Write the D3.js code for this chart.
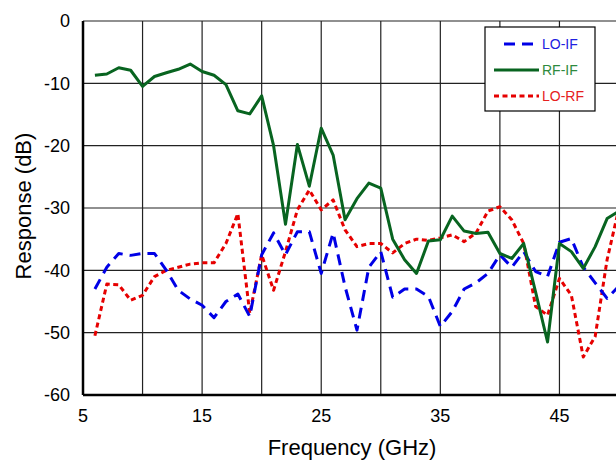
<!DOCTYPE html>
<meta charset="utf-8">
<style>
body { margin: 0; background: #fff; }
svg { font-family: "Liberation Sans", Arial, sans-serif; }
.grid line { stroke: #222; stroke-width: 1.2px; }
.line { fill: none; stroke-width: 3px; stroke-linejoin: round; }
</style>
<svg width="616" height="462"></svg>
<script src="https://cdn.jsdelivr.net/npm/d3@7"></script>
<script>
var freq = [6,7,8,9,10,11,12,13,14,15,16,17,18,19,20,21,22,23,24,25,26,27,28,29,30,
            31,32,33,34,35,36,37,38,39,40,41,42,43,44,45,46,47,48,49,50];
var loIf = [-43,-39.5,-37.3,-37.6,-37.3,-37.3,-40,-43.2,-44.6,-45.6,-47.6,-45,-43.8,-47.4,-37.5,
            -34,-37.5,-33.8,-33.8,-40.5,-34,-42.6,-49.6,-39.5,-37,-44.3,-43,-43,-44.2,-49,
            -46.6,-43,-42,-40.5,-37.5,-39.5,-37,-40.2,-41,-35.5,-34.9,-39.5,-42,-44.5,-42.5];
var rfIf = [-8.7,-8.5,-7.5,-7.9,-10.5,-8.9,-8.3,-7.75,-6.9,-8.1,-8.7,-10.2,-14.4,-14.9,-12,
            -20,-32.6,-19.8,-26.5,-17.2,-21.5,-31.9,-28.5,-26,-26.8,-35,-38.3,-40.5,-35.3,-35.1,
            -31.3,-33.7,-34.1,-33.9,-37.3,-38.1,-35.7,-43.5,-51.5,-35.7,-37,-39.7,-36.2,-31.7,-30.5];
var loRf = [-50.5,-42.2,-42.3,-44.8,-44,-41,-40,-39.5,-39,-38.8,-38.8,-35.7,-30.9,-46.9,-37.5,
            -43.2,-37,-30.3,-27.1,-30.3,-28.7,-33.5,-36.2,-35.7,-35.7,-37.2,-35.7,-35,-35.2,-34.8,
            -34.3,-35.4,-34,-30.5,-29.8,-31.9,-35.7,-45.8,-47.2,-41.3,-44,-53.9,-50.6,-38.3,-30];
var xTicks = [5,10,15,20,25,30,35,40,45,50];
var xLabels = [5,15,25,35,45];
var yTicks = [0,-10,-20,-30,-40,-50,-60];
var seriesNames = ["LO-IF","RF-IF","LO-RF"];

var svg = d3.select("svg"),
    margin = {top: 21, left: 83},
    width = 536, height = 374;

var x = d3.scaleLinear().domain([5, 50]).range([0, width]),
    y = d3.scaleLinear().domain([-60, 0]).range([height, 0]);

var g = svg.append("g").attr("transform", "translate(" + margin.left + "," + margin.top + ")");

// grid
var grid = g.append("g").attr("class", "grid");
grid.selectAll(".v").data(xTicks).enter().append("line")
    .attr("x1", function(d) { return x(d); }).attr("x2", function(d) { return x(d); })
    .attr("y1", 0).attr("y2", height);
grid.selectAll(".h").data(yTicks).enter().append("line")
    .attr("x1", 0).attr("x2", width)
    .attr("y1", function(d) { return y(d); }).attr("y2", function(d) { return y(d); });

// axes frame
g.append("line").attr("x1", 0).attr("x2", 0).attr("y1", 0).attr("y2", height)
    .attr("stroke", "#000").attr("stroke-width", 2.5);
g.append("line").attr("x1", 0).attr("x2", width).attr("y1", height).attr("y2", height)
    .attr("stroke", "#000").attr("stroke-width", 2.5);

g.selectAll(".ylab").data(yTicks).enter().append("text")
    .attr("x", -13).attr("y", function(d) { return y(d); })
    .attr("dy", "0.35em").attr("text-anchor", "end")
    .attr("font-size", 18).text(function(d) { return d; });
g.selectAll(".xlab").data(xLabels).enter().append("text")
    .attr("x", function(d) { return x(d); }).attr("y", height + 27)
    .attr("text-anchor", "middle").attr("font-size", 18).text(function(d) { return d; });

svg.append("text").attr("x", 352).attr("y", 455).attr("text-anchor", "middle")
    .attr("font-size", 22).text("Frequency (GHz)");
svg.append("text").attr("transform", "translate(31,206) rotate(-90)")
    .attr("text-anchor", "middle").attr("font-size", 22).text("Response (dB)");

var line = d3.line().x(function(d) { return x(d[0]); }).y(function(d) { return y(d[1]); });
function pairs(vals) { return freq.map(function(f, i) { return [f, vals[i]]; }); }

var styles = [
  {data: loIf, color: "#0000e6", dash: "11,7", text: "#2020e0"},
  {data: rfIf, color: "#086420", dash: null, text: "#2e8a3e"},
  {data: loRf, color: "#e60000", dash: "5,3.5", text: "#e62020"}
];

var clip = svg.append("clipPath").attr("id", "clip").append("rect")
    .attr("x", -2).attr("y", -2).attr("width", width + 4).attr("height", height + 4);

[2, 0, 1].forEach(function(i) {
  var s = styles[i];
  g.append("path").datum(pairs(s.data)).attr("class", "line")
    .attr("clip-path", "url(#clip)")
    .attr("stroke", s.color)
    .attr("stroke-dasharray", s.dash)
    .attr("d", line);
});

// legend
var lg = svg.append("g").attr("transform", "translate(485,27)");
lg.append("rect").attr("width", 110).attr("height", 84)
    .attr("fill", "#fff").attr("stroke", "#000").attr("stroke-width", 1.2);
seriesNames.forEach(function(name, i) {
  var s = styles[i], yy = 17 + i * 26;
  lg.append("line").attr("x1", i == 0 ? 9 + 10 : 9).attr("x2", 54).attr("y1", yy).attr("y2", yy)
    .attr("stroke", s.color).attr("stroke-width", 3).attr("stroke-dasharray", s.dash);
  lg.append("text").attr("x", 57).attr("y", yy).attr("dy", "0.35em")
    .attr("font-size", 14).attr("fill", s.text).text(name);
});
</script>
